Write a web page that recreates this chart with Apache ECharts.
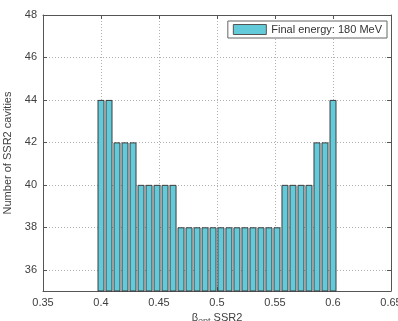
<!DOCTYPE html>
<html>
<head>
<meta charset="utf-8">
<script src="https://cdn.jsdelivr.net/npm/echarts@6/dist/echarts.min.js"></script>
<style>
  html, body { margin: 0; padding: 0; background: #fff; }
  #chart { width: 398px; height: 321px; }
</style>
</head>
<body>
<div id="chart"></div>
<script>
// bin centres (beta_opt) and cavity counts
const betaBins = [0.4000, 0.4069, 0.4138, 0.4207, 0.4276, 0.4345, 0.4414, 0.4483, 0.4552, 0.4621,
                  0.4690, 0.4759, 0.4828, 0.4897, 0.4966, 0.5034, 0.5103, 0.5172, 0.5241, 0.5310,
                  0.5379, 0.5448, 0.5517, 0.5586, 0.5655, 0.5724, 0.5793, 0.5862, 0.5931, 0.6000];
const cavityCounts = [44, 44, 42, 42, 42, 40, 40, 40, 40, 40,
                      38, 38, 38, 38, 38, 38, 38, 38, 38, 38,
                      38, 38, 38, 40, 40, 40, 40, 42, 42, 44];
const yTicks = [36, 38, 40, 42, 44, 46, 48];
const seriesName = 'Final energy: 180 MeV';

const font = 'Liberation Sans';
const textColor = '#404040';
const gridLine = {show: true, lineStyle: {color: '#b0b0b0', type: [1, 2], width: 1}};
const boxLine = {show: true, onZero: false, lineStyle: {color: '#555', width: 1}};

const chart = echarts.init(document.getElementById('chart'));
chart.setOption({
    animation: false,
    textStyle: {fontFamily: font, color: textColor},
    grid: {left: 43, right: 7, top: 15, bottom: 30, outerBoundsMode: 'none', containLabel: false},
    legend: {
        right: 11, top: 21,
        itemWidth: 33, itemHeight: 10, itemGap: 4,
        padding: [3, 5, 3, 5],
        borderColor: '#666', borderWidth: 1,
        backgroundColor: '#fff',
        icon: 'rect',
        itemStyle: {borderColor: '#555', borderWidth: 1},
        textStyle: {fontFamily: font, fontSize: 11, color: '#333'},
        data: [seriesName]
    },
    xAxis: [{
        type: 'value', min: 0.35, max: 0.65, interval: 0.05,
        axisLine: boxLine,
        axisTick: {show: true, inside: true, length: 4, lineStyle: {color: '#555'}},
        axisLabel: {fontSize: 11, color: textColor, margin: 6},
        splitLine: gridLine,
        name: '{b|β}{s|opt}{b| SSR2}',
        nameLocation: 'middle', nameGap: 17,
        nameTextStyle: {
            fontSize: 11, color: textColor,
            rich: {
                b: {fontSize: 11, lineHeight: 15, verticalAlign: 'middle', color: textColor, fontFamily: font},
                s: {fontSize: 9, lineHeight: 9, verticalAlign: 'bottom', color: '#505050', fontFamily: font}
            }
        }
    }, {
        type: 'value', min: 0.35, max: 0.65, interval: 0.05, position: 'top',
        axisLine: boxLine,
        axisTick: {show: true, inside: true, length: 4, lineStyle: {color: '#555'}},
        axisLabel: {show: false}, splitLine: {show: false}
    }],
    yAxis: [{
        type: 'value', min: 35, max: 48,
        axisLine: boxLine,
        axisTick: {show: true, inside: true, length: 4, customValues: yTicks, lineStyle: {color: '#555'}},
        axisLabel: {fontSize: 11, color: textColor, margin: 6, customValues: yTicks},
        splitLine: gridLine,
        name: 'Number of SSR2 cavities',
        nameLocation: 'middle', nameGap: 22,
        nameTextStyle: {fontSize: 11, color: textColor}
    }, {
        type: 'value', min: 35, max: 48, position: 'right',
        axisLine: boxLine,
        axisTick: {show: true, inside: true, length: 4, customValues: yTicks, lineStyle: {color: '#555'}},
        axisLabel: {show: false}, splitLine: {show: false}
    }],
    series: [{
        name: seriesName,
        type: 'bar',
        xAxisIndex: 0, yAxisIndex: 0,
        barWidth: 7,
        clip: true,
        itemStyle: {color: '#62cad8', borderColor: '#3c3c3c', borderWidth: 1},
        data: betaBins.map((b, i) => [b, cavityCounts[i]])
    }]
});
</script>
</body>
</html>
